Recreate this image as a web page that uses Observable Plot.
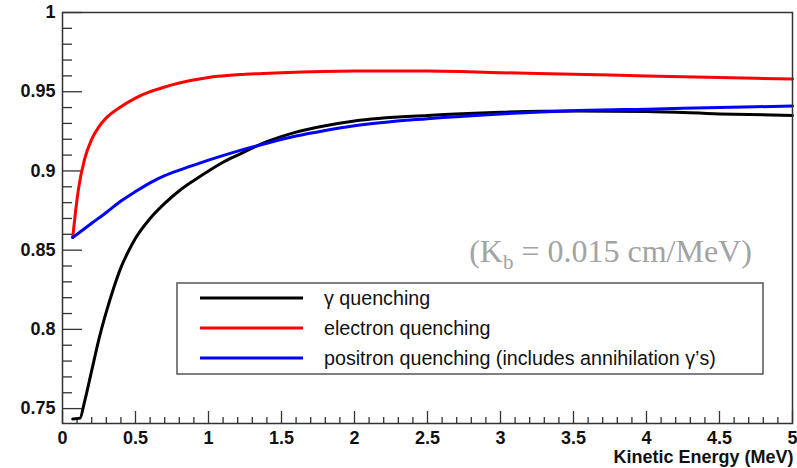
<!DOCTYPE html>
<html>
<head>
<meta charset="utf-8">
<script src="https://cdn.jsdelivr.net/npm/d3@7"></script>
<script src="https://cdn.jsdelivr.net/npm/@observablehq/plot@0.6"></script>
<style>
  body { margin: 0; background: #fff; }
  #chart { width: 797px; height: 468px; }
</style>
</head>
<body>
<div id="chart"></div>
<script>
// ---- data ----
const seriesNames = ["γ quenching", "electron quenching", "positron quenching (includes annihilation γ’s)"];
const seriesColors = ["#000000", "#ff0000", "#0000ff"];

const gammaEnergy = [0.07, 0.12, 0.15, 0.2, 0.25, 0.3, 0.35, 0.4, 0.45, 0.5, 0.6, 0.7, 0.8, 0.9, 1.0, 1.1, 1.2, 1.4, 1.6, 1.8, 2.0, 2.5, 3.0, 3.5, 4.0, 4.5, 5.0];
const gammaValue  = [0.7435, 0.744, 0.754, 0.774, 0.794, 0.811, 0.826, 0.839, 0.849, 0.8575, 0.870, 0.8795, 0.8875, 0.894, 0.900, 0.9055, 0.910, 0.9185, 0.9245, 0.9285, 0.9315, 0.935, 0.937, 0.9378, 0.9375, 0.936, 0.935];

const electronEnergy = [0.07, 0.09, 0.11, 0.15, 0.2, 0.25, 0.3, 0.4, 0.5, 0.6, 0.7, 0.8, 1.0, 1.25, 1.5, 2.0, 2.5, 3.0, 3.5, 4.0, 4.5, 5.0];
const electronValue  = [0.858, 0.875, 0.889, 0.907, 0.920, 0.928, 0.9335, 0.9405, 0.946, 0.950, 0.953, 0.9555, 0.959, 0.961, 0.962, 0.963, 0.963, 0.962, 0.961, 0.960, 0.959, 0.958];

const positronEnergy = [0.07, 0.2, 0.3, 0.4, 0.5, 0.6, 0.7, 0.8, 0.9, 1.0, 1.2, 1.4, 1.6, 1.8, 2.0, 2.5, 3.0, 3.5, 4.0, 4.5, 5.0];
const positronValue  = [0.858, 0.867, 0.8738, 0.881, 0.887, 0.8925, 0.897, 0.9005, 0.9037, 0.9068, 0.9125, 0.9175, 0.922, 0.9255, 0.9285, 0.933, 0.936, 0.938, 0.939, 0.940, 0.941];

const xTicksMajor = [0, 0.5, 1, 1.5, 2, 2.5, 3, 3.5, 4, 4.5, 5];
const xTickLabels = ["0", "0.5", "1", "1.5", "2", "2.5", "3", "3.5", "4", "4.5", "5"];
const xTicksMinor = d3.range(1, 50).filter(i => i % 5 !== 0).map(i => i / 10);

const yTicksMajor = [0.75, 0.8, 0.85, 0.9, 0.95, 1];
const yTickLabels = ["0.75", "0.8", "0.85", "0.9", "0.95", "1"];
const yTicksMinor = d3.range(76, 100).filter(i => i % 5 !== 0).map(i => i / 100);

const xLabel = "Kinetic Energy (MeV)";
const annotation = "(Kb = 0.015 cm/MeV)";

// ---- build table ----
const rows = [];
[[gammaEnergy, gammaValue], [electronEnergy, electronValue], [positronEnergy, positronValue]].forEach(([xs, ys], s) => {
  xs.forEach((x, i) => rows.push({series: seriesNames[s], energy: x, value: ys[i]}));
});

// ---- layout ----
const W = 797, H = 468;
const mL = 62, mR = 5, mT = 12, mB = 45;
const frameW = W - mL - mR, frameH = H - mT - mB;
const sans = "Liberation Sans, Arial, Helvetica, sans-serif";
const axisColor = "#333";

const plot = Plot.plot({
  width: W, height: H,
  marginLeft: mL, marginRight: mR, marginTop: mT, marginBottom: mB,
  style: {fontFamily: sans, background: "#fff"},
  x: {domain: [0, 5]},
  y: {domain: [0.7406, 1]},
  color: {domain: seriesNames, range: seriesColors},
  marks: [
    Plot.ruleX(xTicksMinor, {x: d => d, insetTop: frameH - 6, stroke: axisColor, strokeWidth: 1.3}),
    Plot.ruleX(xTicksMajor, {x: d => d, insetTop: frameH - 12, stroke: axisColor, strokeWidth: 1.3}),
    Plot.ruleY(yTicksMinor, {y: d => d, insetRight: frameW - 10, stroke: axisColor, strokeWidth: 1.3}),
    Plot.ruleY(yTicksMajor, {y: d => d, insetRight: frameW - 20, stroke: axisColor, strokeWidth: 1.3}),
    Plot.line(rows, {x: "energy", y: "value", z: "series", stroke: "series", strokeWidth: 3, curve: "monotone-x"}),
    Plot.frame({stroke: axisColor, strokeWidth: 1.5}),
    Plot.axisX({ticks: xTicksMajor, tickSize: 0, tickPadding: 8, label: null,
      tickFormat: d => xTickLabels[xTicksMajor.indexOf(d)],
      fontSize: 18, fontWeight: "bold", fill: "#111"}),
    Plot.axisY({ticks: yTicksMajor, tickSize: 0, tickPadding: 7, label: null,
      tickFormat: d => yTickLabels[yTicksMajor.indexOf(d)],
      fontSize: 18, fontWeight: "bold", fill: "#111"}),
    Plot.text([xLabel], {text: d => d, frameAnchor: "bottom-right", dx: 1, dy: 39, textAnchor: "end",
      fontSize: 18, fontWeight: "bold", fill: "#111"}),
    Plot.text([annotation], {text: d => d, frameAnchor: "top-left", dx: 610 - mL, dy: 227, textAnchor: "middle",
      fontSize: 32, fontFamily: "Liberation Serif, Times New Roman, serif", fill: "#a3a3a3"})
  ]
});

// subscript in annotation
d3.select(plot).selectAll("text").filter(function() { return this.textContent === annotation; })
  .each(function() {
    const t = d3.select(this);
    t.text(null);
    t.append("tspan").text("(K");
    t.append("tspan").attr("dy", "0.3em").attr("font-size", "21").text("b");
    t.append("tspan").attr("dy", "-0.2em").text(" = 0.015 cm/MeV)");
  });

// legend (inside the frame)
const svg = d3.select(plot);
const lg = svg.append("g").attr("font-family", sans).attr("text-anchor", "start");
const box = {x: 177, y: 283, w: 586, h: 91};
lg.append("rect").attr("x", box.x).attr("y", box.y).attr("width", box.w).attr("height", box.h)
  .attr("fill", "#fff").attr("stroke", "#555").attr("stroke-width", 1.5);
seriesNames.forEach((name, i) => {
  const yy = box.y + 15 + i * 30;
  lg.append("line").attr("x1", 200).attr("x2", 303).attr("y1", yy).attr("y2", yy)
    .attr("stroke", seriesColors[i]).attr("stroke-width", 3);
  lg.append("text").attr("x", 324).attr("y", yy).attr("dy", "0.35em")
    .attr("text-anchor", "start").attr("font-size", 19.7).attr("fill", "#111").text(name);
});

document.getElementById("chart").appendChild(plot);
</script>
</body>
</html>
